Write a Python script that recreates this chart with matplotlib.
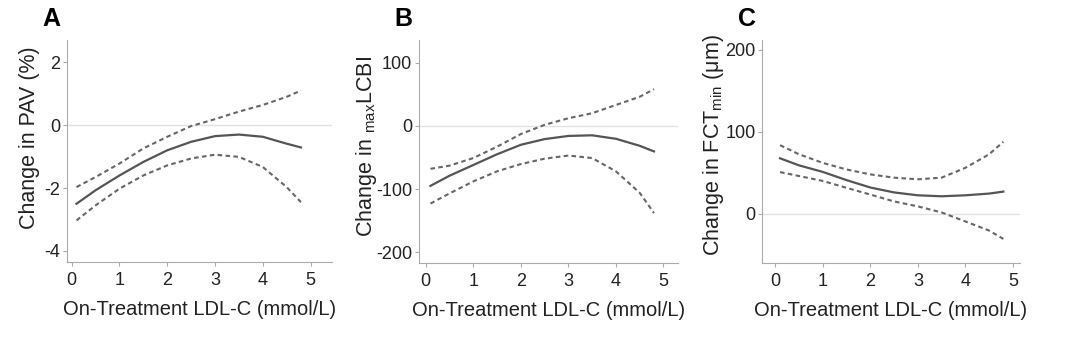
import numpy as np
import matplotlib.pyplot as plt

plt.rcParams['font.family'] = ['Liberation Sans', 'DejaVu Sans']
plt.rcParams['mathtext.fontset'] = 'custom'
plt.rcParams['mathtext.rm'] = 'Liberation Sans'
plt.rcParams['axes.unicode_minus'] = False

# LDL-C sample points (mmol/L)
x = [0.1, 0.5, 1, 1.5, 2, 2.5, 3, 3.5, 4, 4.5, 4.8]

# Panel A: change in PAV (%)
pav_fit = [-2.50, -2.07, -1.60, -1.17, -0.80, -0.53, -0.35, -0.30, -0.37, -0.59, -0.71]
pav_hi = [-1.97, -1.65, -1.22, -0.74, -0.37, -0.03, 0.19, 0.43, 0.64, 0.90, 1.10]
pav_lo = [-3.03, -2.55, -2.02, -1.60, -1.28, -1.06, -0.94, -1.01, -1.33, -1.97, -2.45]

# Panel B: change in maxLCBI
lcbi_fit = [-95, -79, -62, -45, -30, -21, -16, -15, -20.5, -31.6, -40.5]
lcbi_hi = [-68, -63, -51, -33, -13, 1.6, 12, 20, 33, 46, 58]
lcbi_lo = [-123, -107, -88, -72, -60.5, -52, -47, -51, -72, -106, -138]

# Panel C: change in FCTmin (um)
fct_fit = [67.6, 59, 51, 41, 32, 26, 22.5, 21.3, 22.5, 24.6, 27]
fct_hi = [83.6, 72.5, 62, 54, 48, 44, 42, 44, 56, 72.5, 87.7]
fct_lo = [50.8, 46, 40, 31.6, 23.4, 15, 9, 1.6, -9.4, -20.5, -30.7]

panels = [
    dict(letter='A', fit=pav_fit, hi=pav_hi, lo=pav_lo, ylabel='Change in PAV (%)',
         yticks=[-4, -2, 0, 2], ylim=(-4.35, 2.71), xlim=(-0.1, 5.44),
         pos=[0.062, 0.225, 0.245, 0.657], lx=-0.10, ly=0.56),
    dict(letter='B', fit=lcbi_fit, hi=lcbi_hi, lo=lcbi_lo,
         ylabel='Change in $_{\\mathrm{max}}$LCBI',
         yticks=[-200, -100, 0, 100], ylim=(-217, 136), xlim=(-0.14, 5.31),
         pos=[0.388, 0.222, 0.240, 0.660], lx=-0.155, ly=0.52),
    dict(letter='C', fit=fct_fit, hi=fct_hi, lo=fct_lo,
         ylabel='Change in FCT$_{\\mathrm{min}}$ (μm)',
         yticks=[0, 100, 200], ylim=(-60, 212), xlim=(-0.27, 5.14),
         pos=[0.706, 0.222, 0.238, 0.660], lx=-0.14, ly=0.53),
]

fig = plt.figure(figsize=(10.8, 3.38), dpi=100)

for p in panels:
    ax = fig.add_axes(p['pos'])
    ax.axhline(0, color='#e2e2e2', linewidth=1.0, zorder=0)
    ax.plot(x, p['fit'], color='#555555', linewidth=1.6)
    ax.plot(x, p['hi'], color='#666666', linewidth=1.5, linestyle=(0, (2.2, 1.6)))
    ax.plot(x, p['lo'], color='#666666', linewidth=1.5, linestyle=(0, (2.2, 1.6)))
    ax.set_xlim(*p['xlim'])
    ax.set_ylim(*p['ylim'])
    ax.set_xticks([0, 1, 2, 3, 4, 5])
    ax.set_yticks(p['yticks'])
    for s in ['top', 'right']:
        ax.spines[s].set_visible(False)
    for s in ['left', 'bottom']:
        ax.spines[s].set_color('#aaaaaa')
    ax.tick_params(colors='#aaaaaa', labelcolor='#222222', labelsize=13, length=3, pad=2)
    ax.tick_params(axis='x', pad=4)
    ax.set_xlabel('On-Treatment LDL-C (mmol/L)', fontsize=14.5, color='#222222', labelpad=8)
    ax.set_ylabel(p['ylabel'], fontsize=15.5, color='#222222', labelpad=3)
    ax.yaxis.set_label_coords(p['lx'], p['ly'])
    ax.text(-0.06, 1.04, p['letter'], transform=ax.transAxes, fontsize=18,
            fontweight='bold', ha='center', va='bottom')

fig.savefig('out.png', dpi=100)
